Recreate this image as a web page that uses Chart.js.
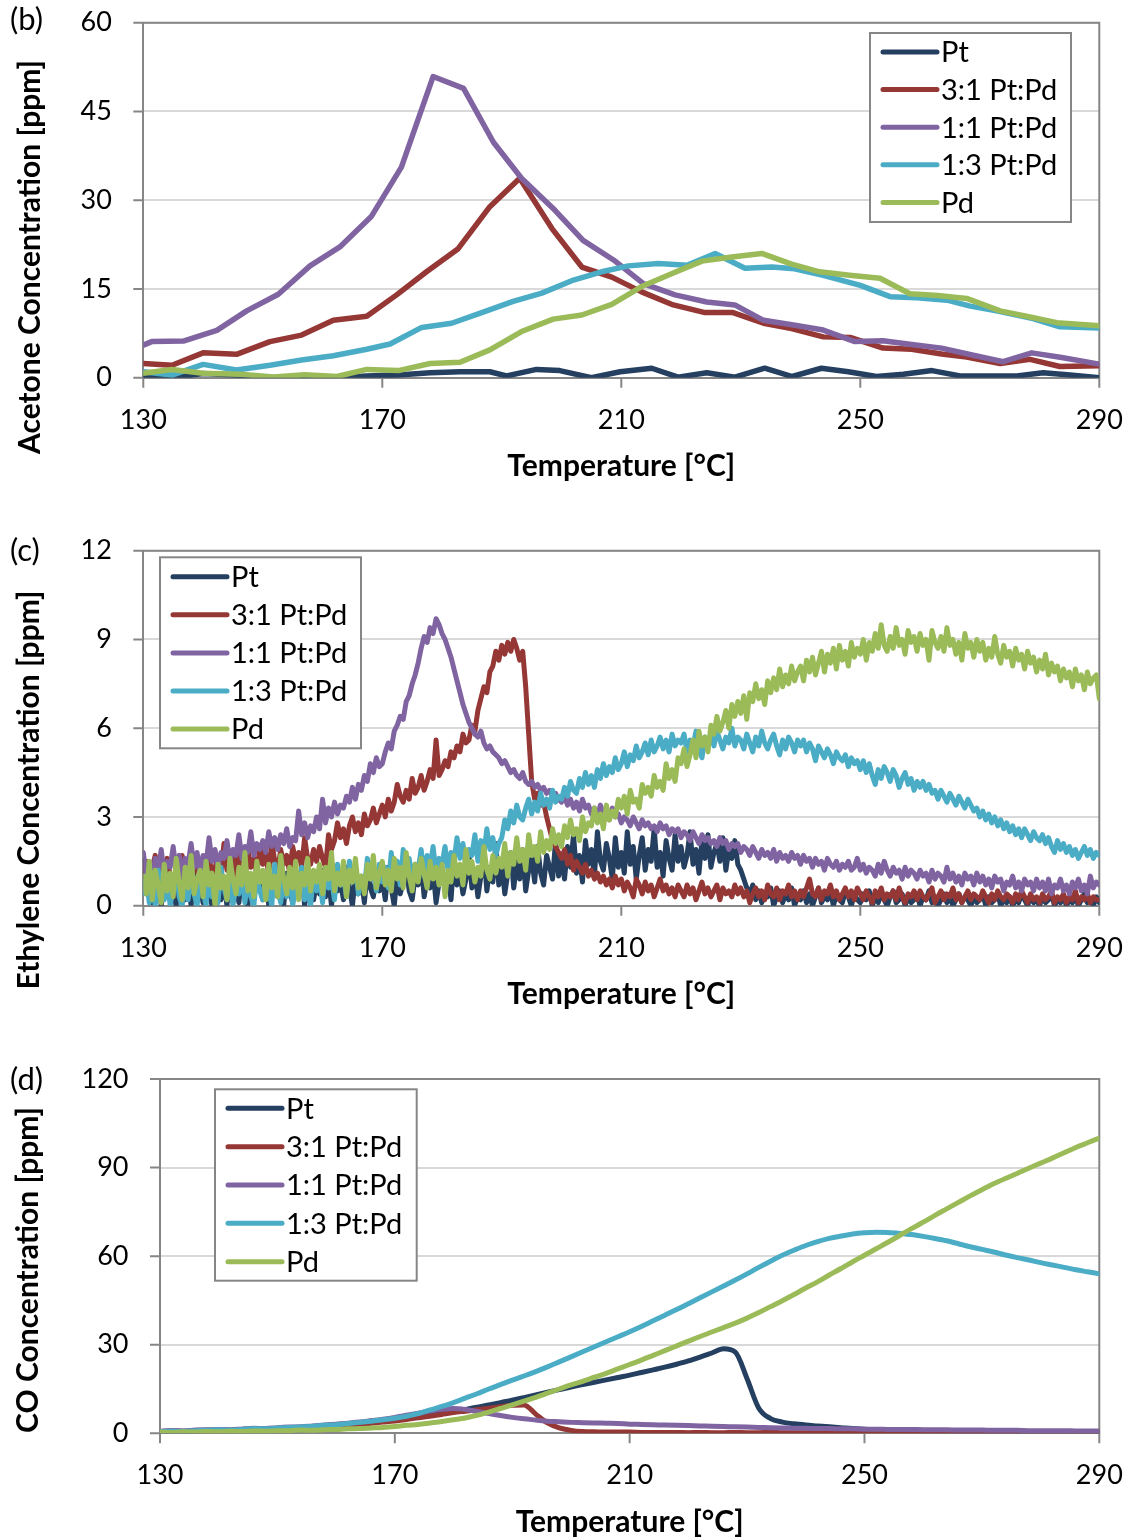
<!DOCTYPE html>
<html>
<head>
<meta charset="utf-8">
<script src="https://cdn.jsdelivr.net/npm/chart.js@4"></script>
<style>
  html, body { margin: 0; background: #fff; overflow: hidden; }
  #page { position: relative; width: 1137px; height: 1540px; }
  canvas { position: absolute; left: 0; }
</style>
</head>
<body>
<div id="page">
  <canvas id="acetone" width="1137" height="484" style="top:0"></canvas>
  <canvas id="ethylene" width="1137" height="484" style="top:528px"></canvas>
  <canvas id="co" width="1137" height="484" style="top:1056px"></canvas>
</div>
<script>
const seriesNames = ['Pt', '3:1 Pt:Pd', '1:1 Pt:Pd', '1:3 Pt:Pd', 'Pd'];
const seriesColours = ['#243F60', '#953735', '#8064A2', '#4BACC6', '#9BBB59'];

const tempTicks = [130, 170, 210, 250, 290];
const acetoneTicks = [0, 15, 30, 45, 60];
const ethyleneTicks = [0, 3, 6, 9, 12];
const coTicks = [0, 30, 60, 90, 120];

// acetone: [temperature, ppm]
const acetonePt = [[130,0],[135,0.05],[140,0.7],[145.6,0.45],[152,0],[157.5,0.1],[162.5,0],[167.4,0.3],[172.7,0.45],[178,0.85],[183,1.0],[188,1.0],[190.8,0.3],[195.8,1.4],[199.7,1.2],[205,0],[209.8,1.0],[215.1,1.6],[219.5,0.1],[224.3,0.85],[229,0.1],[234,1.6],[238.6,0.2],[243.5,1.6],[248,1.0],[252.7,0.2],[257.2,0.6],[262,1.2],[266.7,0.3],[271.7,0.3],[276.2,0.3],[280.6,0.85],[285.1,0.45],[290,0]];
const acetone31 = [[130,2.4],[134.8,2.1],[140,4.2],[145.6,3.95],[151.2,6.1],[156.5,7.2],[161.8,9.7],[167.4,10.4],[172.4,14.0],[177.4,17.9],[182.7,21.8],[188,28.9],[193,33.7],[198.4,25.2],[203.4,18.7],[208.4,17.0],[213.4,14.5],[218.7,12.3],[224,11.0],[228.7,11.0],[233.8,9.2],[238.5,8.3],[243.8,6.9],[248.3,6.8],[253.8,5.0],[258.6,4.8],[263.6,4.0],[267.8,3.5],[273.4,2.4],[278.4,3.1],[283.4,1.9],[290,2.0]];
const acetone11 = [[130,5.5],[131.4,6.1],[136.7,6.2],[142.3,8.0],[147.3,11.3],[152.6,14.1],[157.9,18.9],[162.9,22.1],[168.2,27.3],[173.2,35.6],[178.5,50.9],[183.6,48.9],[188.6,39.8],[193.3,33.7],[198.9,28.3],[203.6,23.2],[208.7,19.9],[213.7,15.9],[219,14.0],[224.3,12.8],[229,12.3],[233.8,9.7],[238.8,8.9],[243.8,8.05],[249.1,6.1],[253.8,6.25],[258.6,5.6],[263.6,5.0],[268.9,3.8],[273.9,2.7],[278.7,4.2],[283.7,3.4],[290,2.3]];
const acetone13 = [[130,1.0],[134.8,0.45],[140,2.25],[145.6,1.3],[151.2,2.1],[156.5,3.0],[161.8,3.7],[167.4,4.8],[171.3,5.7],[176.6,8.5],[181.6,9.2],[186.4,10.9],[191.9,12.9],[196.7,14.3],[201.7,16.4],[206.7,17.9],[211.2,18.9],[216.2,19.3],[221,19.0],[225.7,21.0],[230.7,18.5],[235.2,18.7],[239,18.4],[243.8,17.3],[250,15.6],[255,13.7],[259.5,13.5],[264.5,13.1],[268.4,12.1],[272.8,11.3],[278.9,10.0],[283.4,8.6],[290,8.4]];
const acetonePd = [[130,0.75],[134.8,1.4],[140,0.75],[146.2,0.6],[151.8,0.1],[157,0.5],[162.4,0.2],[167.4,1.4],[172.7,1.2],[178,2.4],[183,2.6],[188,4.7],[193.3,7.8],[198.6,9.9],[203.4,10.6],[208.4,12.4],[213.4,15.4],[218.7,17.7],[223.5,19.7],[228.5,20.4],[233.5,21.0],[238.5,19.2],[243.2,17.9],[248.2,17.3],[253.3,16.8],[258.3,14.2],[263,13.9],[267.8,13.4],[273.4,11.3],[278.2,10.3],[282.9,9.3],[290,8.8]];

// ethylene: one reading every half degree from 130 to 290, ten degrees per row
const ethyleneStart = 130, ethyleneStep = 0.5;
const ethylenePt = [
  1.5,0.4,1.0,0.1,0.7,1.2,0.0,0.8,0.3,1.1, 0.5,0.0,1.3,0.6,0.2,0.9,0.0,1.1,0.4,0.7,
  0.1,1.0,0.5,0.0,1.3,0.6,0.2,0.9,0.0,1.2, 0.4,0.8,0.1,1.1,0.5,0.0,0.9,0.3,1.4,0.6,
  0.2,1.0,0.0,0.7,1.2,0.3,0.8,0.0,1.1,0.5, 0.1,0.9,0.4,1.3,0.0,0.7,1.0,0.2,0.8,0.4,
  1.2,0.3,0.9,0.0,1.1,0.5,0.8,0.2,1.3,0.6, 0.0,1.0,0.4,0.9,0.1,1.2,0.6,0.3,1.1,0.5,
  0.9,0.2,1.3,0.6,0.0,1.1,0.4,0.8,1.4,0.5, 0.2,1.0,0.7,1.5,0.3,0.9,0.6,1.2,0.1,0.8,
  1.3,0.5,1.0,0.2,1.6,0.7,1.1,0.4,0.9,1.7, 0.6,1.2,0.3,1.0,1.8,0.5,1.3,0.8,2.1,0.7,
  1.4,0.4,1.1,1.8,0.6,1.5,0.9,1.9,0.5,1.2, 1.6,0.8,2.0,1.1,0.7,1.7,1.3,0.9,2.2,1.0,
  1.6,0.9,2.0,1.3,2.4,1.1,1.7,0.8,2.2,1.4, 1.9,1.0,2.5,1.5,1.2,2.1,1.6,0.9,2.3,1.3,
  1.8,1.1,2.5,1.4,2.0,0.9,1.7,2.3,1.2,1.9, 1.5,2.6,1.3,1.8,1.0,2.2,1.6,1.2,2.4,1.5,
  2.0,1.3,1.7,2.5,1.4,1.9,1.1,2.2,1.6,2.4, 1.3,1.8,2.1,1.5,2.3,1.2,1.9,1.6,2.2,1.4,
  1.2,0.9,0.6,0.4,0.7,0.2,0.5,0.1,0.4,0.3, 0.6,0.0,0.3,0.5,0.1,0.4,0.2,0.6,0.0,0.3,
  0.2,0.5,0.1,0.4,0.0,0.3,0.6,0.1,0.3,0.2, 0.5,0.0,0.4,0.2,0.1,0.5,0.3,0.0,0.4,0.2,
  0.1,0.4,0.2,0.5,0.0,0.3,0.1,0.4,0.2,0.0, 0.3,0.5,0.1,0.2,0.4,0.0,0.3,0.1,0.2,0.4,
  0.0,0.3,0.2,0.5,0.1,0.3,0.0,0.2,0.4,0.1, 0.3,0.0,0.2,0.4,0.1,0.3,0.2,0.0,0.3,0.1,
  0.2,0.4,0.0,0.3,0.1,0.2,0.4,0.0,0.2,0.1, 0.3,0.0,0.2,0.1,0.4,0.2,0.0,0.3,0.1,0.2,
  0.0,0.3,0.1,0.2,0.4,0.0,0.2,0.1,0.3,0.0, 0.2,0.1,0.3,0.0,0.2,0.4,0.1,0.2,0.0,0.3,
  0.1];
const ethylene31 = [
  0.9,1.5,0.6,1.3,1.7,0.8,1.2,0.4,1.6,1.0, 0.3,1.4,1.1,1.7,0.7,1.3,0.9,1.6,1.2,0.8,
  1.5,1.0,1.8,0.9,1.3,1.6,1.1,2.1,1.2,1.5, 1.7,1.0,2.0,1.4,0.8,1.9,1.3,1.6,1.1,2.0,
  1.4,1.8,1.0,2.2,1.5,1.2,1.9,1.4,1.7,1.1, 2.0,1.5,1.8,1.3,2.3,1.6,1.4,1.9,1.5,2.0,
  1.6,1.3,2.4,1.9,2.2,2.8,2.3,2.6,2.1,2.7, 3.0,2.5,2.8,2.4,3.1,2.7,2.9,3.3,2.8,3.1,
  3.4,3.0,3.6,3.2,3.5,4.1,3.7,3.5,3.9,3.6, 4.3,3.8,4.0,4.4,3.9,4.2,4.6,4.3,5.6,4.4,
  4.6,4.9,4.7,5.2,5.0,5.4,5.2,5.8,5.5,5.6, 6.1,5.9,6.6,7.0,7.4,7.2,7.9,8.1,8.6,8.3,
  8.8,8.5,8.9,8.6,9.0,8.7,8.3,8.6,7.4,5.8, 4.2,3.6,3.8,3.4,3.5,3.0,2.6,2.2,2.0,1.8,
  1.6,1.9,1.4,1.7,1.2,1.5,1.3,1.1,1.4,1.0, 1.2,0.9,1.1,0.8,1.0,0.7,0.9,0.6,1.0,0.7,
  0.9,0.5,0.8,0.6,0.3,0.9,0.7,0.4,0.8,0.5, 0.7,0.3,0.6,0.9,0.5,0.7,0.4,0.6,0.3,0.7,
  0.5,0.3,0.7,0.4,0.6,0.2,0.5,0.8,0.4,0.6, 0.3,0.5,0.7,0.2,0.6,0.4,0.5,0.3,0.7,0.4,
  0.6,0.3,0.5,0.1,0.4,0.6,0.3,0.5,0.2,0.7, 0.4,0.3,0.6,0.2,0.5,0.4,0.7,0.3,0.5,0.2,
  0.5,0.3,0.6,0.9,0.4,0.3,0.6,0.2,0.5,0.4, 0.7,0.3,0.5,0.2,0.4,0.6,0.3,0.5,0.2,0.6,
  0.4,0.2,0.5,0.3,0.1,0.5,0.3,0.6,0.2,0.4, 0.3,0.5,0.2,0.6,0.3,0.1,0.4,0.3,0.5,0.2,
  0.5,0.3,0.2,0.4,0.6,0.1,0.3,0.5,0.2,0.4, 0.3,0.6,0.2,0.4,0.1,0.3,0.5,0.2,0.4,0.3,
  0.2,0.5,0.3,0.1,0.4,0.2,0.5,0.3,0.2,0.4, 0.3,0.1,0.4,0.2,0.5,0.3,0.1,0.4,0.2,0.3,
  0.1,0.4,0.2,0.3,0.5,0.1,0.3,0.2,0.4,0.1, 0.3,0.2,0.5,0.1,0.3,0.2,0.4,0.1,0.3,0.2,
  0.2];
const ethylene11 = [
  1.8,1.0,1.4,0.9,1.6,1.2,1.9,1.1,1.5,1.3, 2.0,1.2,1.7,1.0,1.6,1.4,2.1,1.3,1.8,1.1,
  1.7,1.4,2.3,1.5,1.9,1.3,1.8,1.6,2.2,1.5, 1.9,1.7,2.4,1.6,2.0,1.8,2.5,1.7,2.1,1.9,
  2.2,1.8,2.5,2.0,2.3,1.9,2.4,2.1,2.6,2.0, 2.3,2.2,3.2,2.4,2.8,2.3,2.7,2.5,3.0,2.6,
  3.6,2.8,3.3,3.0,3.5,3.1,3.4,3.3,3.7,3.5, 4.0,3.6,4.1,3.9,4.4,4.2,4.8,4.5,5.0,4.7,
  4.8,5.2,5.5,5.3,5.9,6.1,6.4,6.3,6.9,7.1, 7.5,7.8,8.2,8.7,9.1,8.9,9.4,9.2,9.7,9.5,
  9.2,9.0,8.7,8.4,8.0,7.6,7.2,6.8,6.5,6.2, 6.0,5.8,5.7,5.9,5.5,5.3,5.4,5.2,5.1,5.0,
  4.8,4.9,4.7,4.5,4.6,4.4,4.3,4.5,4.2,4.1, 4.2,4.0,4.1,3.9,4.0,3.8,3.9,3.7,3.8,3.6,
  3.5,3.7,3.4,3.6,3.3,3.5,3.2,3.6,3.3,3.4, 3.1,3.3,3.0,3.4,3.1,3.2,2.9,3.3,3.0,3.1,
  2.8,3.0,2.9,2.7,3.0,2.8,2.6,2.9,2.7,2.8, 2.6,2.7,2.5,2.8,2.6,2.7,2.4,2.6,2.5,2.6,
  2.3,2.5,2.4,2.2,2.5,2.3,2.1,2.4,2.2,2.3, 2.1,2.2,2.0,2.3,2.1,2.2,1.9,2.1,2.0,2.1,
  1.8,2.0,1.9,1.7,2.0,1.8,1.6,1.9,1.7,1.8, 1.6,1.9,1.5,1.8,1.6,1.7,1.5,1.8,1.6,1.7,
  1.4,1.7,1.5,1.6,1.3,1.6,1.4,1.5,1.2,1.6, 1.4,1.3,1.5,1.2,1.4,1.3,1.5,1.2,1.3,1.6,
  1.2,1.4,1.1,1.3,1.2,1.0,1.4,1.1,1.5,1.2, 1.0,1.3,1.1,1.2,0.9,1.3,1.0,1.2,1.1,0.9,
  1.2,1.0,1.1,0.8,1.2,0.9,1.1,1.0,0.8,1.3, 0.9,1.1,0.8,1.0,0.7,1.1,0.9,1.0,0.7,1.1,
  0.8,1.0,0.7,0.9,0.6,1.0,0.8,0.9,0.5,0.8, 0.7,1.0,0.6,0.8,0.5,0.9,0.7,0.8,0.5,0.9,
  0.6,0.8,0.5,0.9,0.4,0.7,0.6,0.9,0.5,0.7, 0.4,0.8,0.6,0.9,0.5,0.7,0.4,1.0,0.6,0.8,
  0.7];
const ethylene13 = [
  0.4,1.0,0.1,0.7,0.0,1.2,0.5,0.2,0.9,0.0, 0.6,1.3,0.3,0.0,0.8,0.2,1.1,0.4,0.0,0.9,
  0.5,0.0,1.1,0.3,0.8,0.1,1.3,0.6,0.2,1.0, 0.0,0.7,0.4,1.2,0.1,0.9,0.3,0.0,1.0,0.5,
  0.2,1.1,0.5,0.0,1.4,0.6,0.1,0.9,0.3,1.2, 0.0,0.8,0.4,1.3,0.2,0.7,0.0,1.1,0.5,0.9,
  0.1,1.2,0.6,0.9,0.2,1.4,0.7,1.0,0.3,1.5, 0.8,1.3,0.4,1.0,0.6,1.6,0.9,1.2,0.5,1.4,
  0.8,1.3,0.6,1.8,1.0,1.5,0.7,1.9,1.1,1.6, 0.9,1.4,1.2,1.9,1.0,1.7,1.3,2.0,1.1,1.6,
  1.4,2.0,1.2,1.8,1.5,2.3,1.6,2.1,1.3,1.9, 1.7,2.4,1.5,2.2,1.8,2.6,1.9,2.3,1.7,2.1,
  2.3,2.9,2.6,3.2,2.8,3.4,3.0,2.9,3.3,3.6, 3.1,3.5,3.2,3.8,3.4,3.6,3.3,3.9,3.5,3.7,
  3.6,4.0,3.7,4.2,3.9,3.8,4.3,4.0,4.5,4.1, 4.4,4.0,4.6,4.3,4.8,4.4,4.7,4.5,5.0,4.6,
  4.8,5.2,4.7,5.1,4.9,5.4,5.0,5.2,5.5,5.1, 5.6,5.2,5.4,5.7,5.3,5.6,5.2,5.8,5.4,5.6,
  5.5,5.8,5.2,5.6,5.4,5.9,5.3,5.0,5.7,5.5, 5.8,5.4,5.9,5.6,5.3,5.7,5.5,6.0,5.4,5.7,
  5.6,5.3,5.8,5.5,5.2,5.7,5.4,5.9,5.5,5.3, 5.6,5.8,5.4,5.1,5.6,5.3,5.7,5.5,5.2,5.6,
  5.4,5.6,5.2,5.5,5.3,4.9,5.4,5.2,5.0,5.3, 5.1,4.8,5.2,5.0,4.9,5.1,4.7,5.0,4.8,4.9,
  4.6,4.9,4.5,4.8,4.4,4.1,4.6,4.3,4.7,4.5, 4.2,4.6,4.4,4.0,4.3,4.5,4.1,4.3,3.9,4.2,
  4.0,4.2,3.9,4.1,3.8,3.9,3.6,3.9,3.7,3.5, 3.8,3.6,3.4,3.7,3.5,3.3,3.6,3.4,3.2,3.3,
  3.0,3.2,2.9,3.1,2.8,3.0,2.7,2.9,2.6,2.8, 2.5,2.7,2.4,2.6,2.3,2.6,2.4,2.2,2.5,2.3,
  2.2,2.4,2.1,2.3,2.0,1.8,2.2,1.9,2.1,1.8, 2.0,1.7,1.9,1.6,1.8,2.0,1.7,1.9,1.6,1.8,
  1.7];
const ethylenePd = [
  1.0,0.4,1.5,0.2,1.2,0.7,0.1,1.4,0.5,1.1, 0.3,1.6,0.8,0.2,1.3,0.6,1.7,0.4,0.9,1.2,
  0.3,1.5,0.7,1.1,0.0,1.4,0.6,1.0,0.2,1.6, 0.9,0.4,1.3,0.7,1.8,0.5,1.1,0.3,1.5,0.8,
  1.2,0.2,1.4,0.6,1.0,0.3,1.7,0.9,0.4,1.3, 0.6,1.5,0.2,1.1,0.7,1.6,0.5,1.2,0.8,1.4,
  0.4,1.3,0.9,1.8,0.5,1.1,0.7,1.5,0.3,1.2, 0.8,1.6,0.6,1.0,0.4,1.4,0.9,1.7,0.6,1.1,
  1.5,0.7,1.2,0.5,1.6,0.9,1.3,0.6,1.8,1.0, 0.5,1.4,0.8,1.6,1.1,0.6,1.5,0.9,1.3,0.7,
  1.4,0.3,1.2,0.8,1.7,1.0,1.4,0.7,1.9,1.1, 1.5,0.8,1.3,1.0,2.0,1.2,0.9,1.7,1.1,1.6,
  1.3,2.1,1.0,1.8,1.4,2.3,1.5,1.9,1.2,2.4, 1.7,2.0,1.5,2.5,1.8,2.2,1.9,2.6,2.1,2.4,
  2.0,2.7,2.3,2.9,2.4,2.6,2.2,3.0,2.5,2.8, 2.7,3.3,2.8,3.1,2.6,3.4,2.9,3.2,3.0,3.6,
  3.3,3.7,3.1,3.9,3.5,3.6,3.3,4.1,3.8,4.0, 3.7,4.4,4.0,4.2,3.9,4.8,4.3,4.6,4.2,5.0,
  4.8,5.3,4.7,5.1,5.6,5.0,5.9,5.4,5.7,5.2, 6.1,5.8,6.4,5.9,6.2,6.6,6.0,6.8,6.4,6.9,
  6.5,7.1,6.3,7.2,6.9,7.5,7.0,7.3,6.8,7.6, 7.2,7.7,7.3,8.0,7.4,7.8,7.5,8.1,7.6,7.9,
  8.1,7.6,8.3,7.9,8.4,7.8,8.2,8.6,7.9,8.5, 8.2,8.7,8.0,8.8,8.3,8.6,8.1,8.9,8.4,8.7,
  8.5,9.0,8.3,8.9,8.6,9.2,8.7,9.5,8.8,8.6, 9.1,8.7,9.4,8.8,9.0,8.5,9.3,8.9,9.1,8.6,
  9.2,8.8,9.0,8.3,9.3,8.9,8.7,9.1,8.6,9.4, 8.8,9.0,8.5,8.9,8.3,9.2,8.7,8.9,8.4,9.0,
  8.6,8.9,8.3,8.7,8.4,9.1,8.5,8.2,8.8,8.4, 8.6,8.1,8.7,8.3,8.5,8.0,8.6,8.2,8.4,7.9,
  8.3,8.0,8.5,7.8,8.2,7.9,8.1,7.6,8.0,7.7, 7.9,7.4,8.0,7.6,7.8,7.3,7.9,7.5,7.7,7.8,
  7.0];

// CO: one reading every 2 degrees from 130 to 290
const coStart = 130, coStep = 2;
const coPt = [
  0.6,0.8,0.7,0.9,1.0,1.1,1.0,1.3,1.4,1.3, 1.6,1.8,1.9,2.1,2.4,2.7,3.0,3.3,3.7,4.1,
  4.6,5.1,5.6,6.2,6.8,7.4,8.1,8.8,9.6,10.4, 11.2,12.1,13.0,13.9,14.8,15.7,16.5,17.3,18.1,18.9,
  19.7,20.6,21.5,22.4,23.4,24.5,25.8,27.2,28.6,27.5, 18.5,8.5,5.0,3.8,3.2,2.8,2.5,2.2,1.9,1.6,
  1.4,1.2,1.1,1.0,0.9,0.9,0.8,0.8,0.7,0.7, 0.7,0.6,0.6,0.6,0.5,0.5,0.5,0.5,0.4,0.4,
  0.4];
const co31 = [
  0.5,0.7,0.6,0.8,0.9,0.8,1.0,1.2,1.1,1.4, 1.5,1.6,1.8,2.0,2.2,2.4,2.7,3.0,3.4,3.8,
  4.2,4.7,5.3,5.8,6.4,7.0,7.5,8.0,8.5,9.0, 9.5,9.6,6.5,3.5,1.8,1.0,0.6,0.5,0.4,0.4,
  0.4,0.3,0.3,0.3,0.3,0.2,0.3,0.2,0.2,0.3, 0.2,0.2,0.3,0.2,0.2,0.2,0.3,0.2,0.2,0.2,
  0.2,0.3,0.2,0.2,0.2,0.3,0.2,0.2,0.2,0.2, 0.3,0.2,0.2,0.2,0.2,0.3,0.2,0.2,0.2,0.2,
  0.2];
const co11 = [
  0.7,0.9,0.8,1.1,1.2,1.3,1.2,1.5,1.7,1.6, 1.9,2.1,2.2,2.5,2.8,3.1,3.4,3.8,4.3,4.8,
  5.4,6.1,6.8,7.5,8.1,8.4,8.1,7.4,6.7,6.0, 5.4,4.9,4.5,4.1,3.9,3.7,3.6,3.5,3.4,3.3,
  3.1,3.0,2.9,2.8,2.7,2.6,2.5,2.4,2.3,2.2, 2.1,2.0,1.9,1.8,1.7,1.7,1.6,1.6,1.5,1.5,
  1.4,1.4,1.3,1.3,1.3,1.2,1.2,1.2,1.1,1.1, 1.1,1.0,1.0,1.0,0.9,0.9,0.9,0.9,0.8,0.8,
  0.8];
const co13 = [
  0.5,0.7,0.6,0.9,1.0,1.2,1.1,1.3,1.6,1.5, 1.8,2.0,2.1,2.4,2.7,2.9,3.3,3.7,4.1,4.6,
  5.1,5.8,6.7,7.9,9.1,10.4,11.9,13.4,15.0,16.5, 18.0,19.4,20.9,22.5,24.2,25.9,27.6,29.3,31.0,32.7,
  34.4,36.2,38.1,40.0,41.9,43.9,45.9,47.9,49.9,51.9, 54.0,56.2,58.3,60.3,62.0,63.6,64.9,66.0,66.8,67.5,
  67.9,68.1,68.0,67.7,67.3,66.7,66.0,65.2,64.2,63.2, 62.3,61.4,60.4,59.5,58.7,57.8,57.0,56.2,55.4,54.7,
  54.0];
const coPd = [
  0.4,0.3,0.5,0.4,0.6,0.5,0.7,0.6,0.8,0.7, 0.9,0.9,1.1,1.0,1.2,1.3,1.5,1.6,1.8,2.0,
  2.3,2.7,3.0,3.5,4.0,4.6,5.2,6.1,7.2,8.4, 9.6,10.9,12.2,13.6,15.0,16.4,17.6,19.0,20.3,21.8,
  23.3,24.8,26.4,28.0,29.6,31.2,32.8,34.3,35.8,37.3, 39.0,40.9,42.9,44.9,47.0,49.2,51.3,53.6,55.8,58.1,
  60.3,62.5,64.7,67.0,69.3,71.5,73.8,76.0,78.2,80.4, 82.5,84.5,86.3,88.0,89.8,91.5,93.2,95.0,96.8,98.4,
  100.0];

const axisGrey = '#868686';
const gridGrey = '#D9D9D9';
const fontFamily = 'Lato, "Open Sans", sans-serif';

function fromPairs(pairs) {
  return pairs.map(p => ({x: p[0], y: p[1]}));
}
function fromSteps(values, start, step) {
  return values.map((v, i) => ({x: start + i * step, y: v}));
}

// top and right edges of the plot box, plus the short outside tick marks
// (the scales' own tick space is used only to push the labels out)
const frame = {
  id: 'frame',
  beforeDatasetsDraw(chart) {
    const {ctx, chartArea: a, scales: {x, y}} = chart;
    ctx.save();
    ctx.strokeStyle = axisGrey;
    ctx.lineWidth = 2;
    ctx.beginPath();
    ctx.moveTo(a.left, a.top);
    ctx.lineTo(a.right, a.top);
    ctx.lineTo(a.right, a.bottom);
    y.ticks.forEach(t => {
      const py = y.getPixelForValue(t.value);
      ctx.moveTo(a.left - 10, py);
      ctx.lineTo(a.left, py);
    });
    x.ticks.forEach(t => {
      const px = x.getPixelForValue(t.value);
      ctx.moveTo(px, a.bottom);
      ctx.lineTo(px, a.bottom + 10);
    });
    ctx.stroke();
    ctx.restore();
  }
};

// boxed legend sitting inside the plot
const boxLegend = {
  id: 'boxLegend',
  afterDraw(chart, args, o) {
    const {ctx} = chart;
    ctx.save();
    ctx.fillStyle = '#fff';
    ctx.fillRect(o.x, o.y, o.w, o.h);
    ctx.strokeStyle = axisGrey;
    ctx.lineWidth = 2;
    ctx.strokeRect(o.x, o.y, o.w, o.h);
    ctx.font = '29px ' + fontFamily;
    ctx.textBaseline = 'middle';
    ctx.textAlign = 'left';
    chart.data.datasets.forEach((ds, i) => {
      const y = o.y + o.first + i * o.gap;
      ctx.strokeStyle = ds.borderColor;
      ctx.lineWidth = 5;
      ctx.lineCap = 'round';
      ctx.beginPath();
      ctx.moveTo(o.x + 13, y);
      ctx.lineTo(o.x + 67, y);
      ctx.stroke();
      ctx.fillStyle = '#000';
      ctx.fillText(ds.label, o.x + 71, y + 1);
    });
    ctx.restore();
  }
};

// panel letter and the rotated y-axis title
const sideText = {
  id: 'sideText',
  afterDraw(chart, args, o) {
    const {ctx} = chart;
    ctx.save();
    ctx.fillStyle = '#000';
    ctx.textBaseline = 'middle';
    ctx.textAlign = 'left';
    ctx.font = '31px ' + fontFamily;
    ctx.fillText(o.panel, 10, o.panelY);
    ctx.translate(o.titleX, o.titleY);
    ctx.rotate(-Math.PI / 2);
    ctx.textAlign = 'center';
    ctx.font = 'bold 30px ' + fontFamily;
    ctx.fillText(o.title, 0, 0);
    ctx.restore();
  }
};

function makePanel(id, p) {
  const yMax = p.ticks[p.ticks.length - 1];
  return new Chart(document.getElementById(id), {
    type: 'line',
    data: {
      datasets: p.series.map((pts, i) => ({
        label: seriesNames[i],
        data: pts,
        borderColor: seriesColours[i],
        backgroundColor: seriesColours[i],
        borderWidth: p.lineWidth,
        pointRadius: 0,
        fill: false,
        order: seriesNames.length - i,
        borderJoinStyle: 'round',
        borderCapStyle: 'round',
        tension: p.smooth ? 0.4 : 0,
        cubicInterpolationMode: p.smooth ? 'monotone' : 'default'
      }))
    },
    options: {
      responsive: false,
      animation: false,
      events: [],
      layout: {padding: {top: p.area.top, right: 1137 - p.area.right, left: 0, bottom: 0}},
      plugins: {
        legend: {display: false},
        tooltip: {enabled: false},
        boxLegend: p.legend,
        sideText: p.text
      },
      scales: {
        x: {
          type: 'linear',
          min: tempTicks[0],
          max: tempTicks[tempTicks.length - 1],
          afterBuildTicks: s => { s.ticks = tempTicks.map(v => ({value: v})); },
          afterFit: s => { s.height = 484 - p.area.bottom; },
          grid: {drawOnChartArea: false, drawTicks: true, tickLength: 26, tickColor: 'rgba(0,0,0,0)'},
          border: {color: axisGrey, width: 2},
          ticks: {font: {family: fontFamily, size: 27}, color: '#000', padding: 0, maxRotation: 0},
          title: {
            display: true,
            text: 'Temperature [°C]',
            color: '#000',
            font: {family: fontFamily, size: 30, weight: 'bold'},
            padding: {top: 0, bottom: 0}
          }
        },
        y: {
          min: 0,
          max: yMax,
          afterBuildTicks: s => { s.ticks = p.ticks.map(v => ({value: v})); },
          afterFit: s => { s.width = p.area.left; },
          grid: {
            color: c => (c.tick && c.tick.value === 0) ? 'rgba(0,0,0,0)' : gridGrey,
            lineWidth: 2,
            drawTicks: true,
            tickLength: 31.5,
            tickColor: 'rgba(0,0,0,0)'
          },
          border: {color: axisGrey, width: 2},
          ticks: {font: {family: fontFamily, size: 27}, color: '#000', padding: 0}
        }
      }
    },
    plugins: [frame, boxLegend, sideText]
  });
}

makePanel('acetone', {
  series: [acetonePt, acetone31, acetone11, acetone13, acetonePd].map(fromPairs),
  ticks: acetoneTicks,
  area: {left: 143.3, top: 22.7, right: 1099.3, bottom: 377.7},
  lineWidth: 5.5, smooth: false,
  legend: {x: 870, y: 33, w: 201, h: 189, first: 19, gap: 37.6},
  text: {panel: '(b)', panelY: 20, title: 'Acetone Concentration [ppm]', titleX: 30, titleY: 257}
});

makePanel('ethylene', {
  series: [ethylenePt, ethylene31, ethylene11, ethylene13, ethylenePd].map(v => fromSteps(v, ethyleneStart, ethyleneStep)),
  ticks: ethyleneTicks,
  area: {left: 143.3, top: 22.7, right: 1099.3, bottom: 377.7},
  lineWidth: 5, smooth: false,
  legend: {x: 160, y: 29.3, w: 201, h: 191, first: 19.4, gap: 38.1},
  text: {panel: '(c)', panelY: 22.5, title: 'Ethylene Concentration [ppm]', titleX: 29, titleY: 262}
});

makePanel('co', {
  series: [coPt, co31, co11, co13, coPd].map(v => fromSteps(v, coStart, coStep)),
  ticks: coTicks,
  area: {left: 160, top: 23, right: 1099.3, bottom: 377.3},
  lineWidth: 5, smooth: true,
  legend: {x: 215, y: 33.3, w: 201.7, h: 191.4, first: 19, gap: 38.35},
  text: {panel: '(d)', panelY: 23.5, title: 'CO Concentration [ppm]', titleX: 28, titleY: 214}
});
</script>
</body>
</html>
